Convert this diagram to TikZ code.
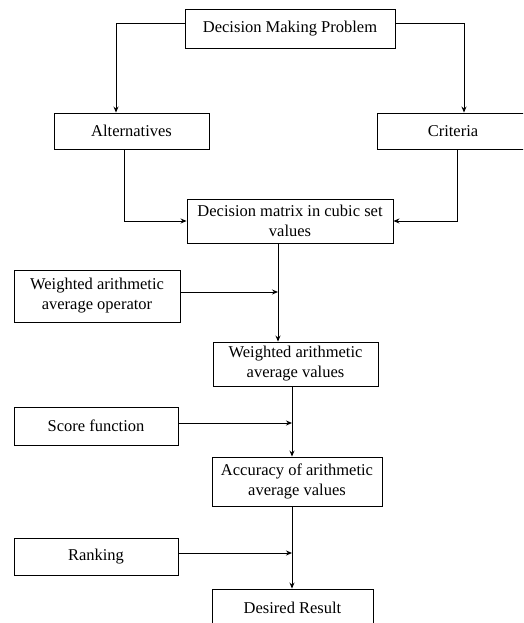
\documentclass[tikz,border=0pt]{standalone}
\usepackage{fontspec}
\setmainfont{Liberation Serif}
\usetikzlibrary{arrows.meta}

\begin{document}
\begin{tikzpicture}[x=1pt,y=-1pt,->,>={Stealth[length=6pt,width=5pt]},
		line width=0.9pt]
		\tikzstyle{every node}=[font=\fontsize{16.5}{20}\selectfont]
		\tikzstyle{box}=[draw=black,fill=white,align=center,inner sep=0pt]
		\clip (0,0) rectangle (523,623);
		\node[box,minimum width=210pt,minimum height=39pt] (P)   at (290,28.5)  {Decision Making Problem};
		\node[box,minimum width=155pt,minimum height=36pt] (A)   at (131.5,131) {Alternatives};
		\node[box,minimum width=152pt,minimum height=36pt] (C)   at (453,131)   {Criteria};
		\node[box,minimum width=206pt,minimum height=44pt] (M)   at (290,221)   {Decision matrix in cubic set\\values};
		\node[box,minimum width=166pt,minimum height=52pt] (Wo)  at (97,296)    {Weighted arithmetic\\average operator};
		\node[box,minimum width=165pt,minimum height=44pt] (Wv)  at (295.5,364) {Weighted arithmetic\\average values};
		\node[box,minimum width=164pt,minimum height=38pt] (S)   at (96,426)    {Score function};
		\node[box,minimum width=170pt,minimum height=49pt] (Acc) at (297,481.5) {Accuracy of arithmetic\\average values};
		\node[box,minimum width=164pt,minimum height=37pt] (R)   at (96,556.5)  {Ranking};
		\node[box,minimum width=161pt,minimum height=37pt] (Res) at (292.5,607.5) {Desired Result};
		% joints on the main line
		\coordinate (j1) at (278,292);
		\coordinate (j2) at (292,423);
		\coordinate (j3) at (292,553);
		\draw ([yshift=5.5pt]P.west) -| ([xshift=-15.5pt]A.north);
		\draw ([yshift=5.5pt]P.east) -| ([xshift=11pt]C.north);
		\draw ([xshift=-7.5pt]A.south) |- (M.west);
		\draw ([xshift=4pt]C.south) |- (M.east);
		\draw (M.south -| j1) -- (Wv.north -| j1);
		\draw ([yshift=4pt]Wo.east) -- (j1);
		\draw (Wv.south -| j2) -- (Acc.north -| j2);
		\draw ([yshift=3pt]S.east) -- (j2);
		\draw (Acc.south -| j3) -- (Res.north -| j3);
		\draw ([yshift=3.5pt]R.east) -- (j3);
	\end{tikzpicture}
\end{document}
